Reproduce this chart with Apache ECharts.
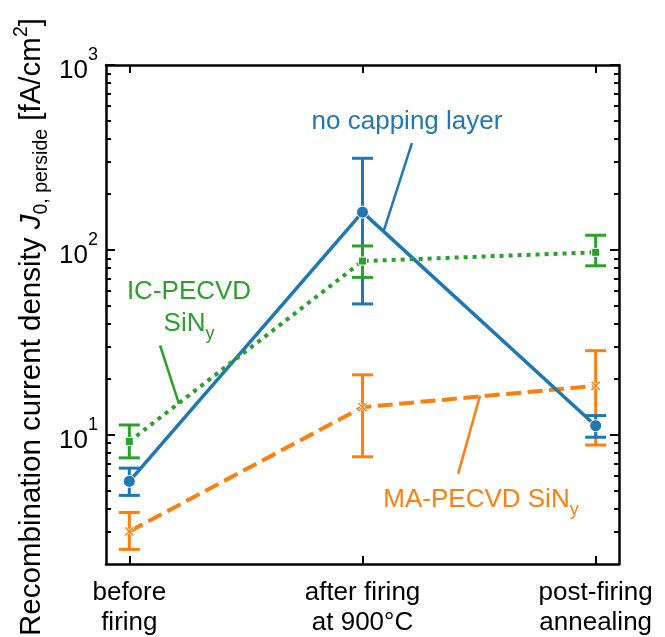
<!DOCTYPE html>
<html>
<head>
<meta charset="utf-8">
<script src="https://cdn.jsdelivr.net/npm/echarts@6/dist/echarts.min.js"></script>
<style>
html, body { margin: 0; padding: 0; background: #fff; }
#chart { width: 665px; height: 637px; }
</style>
</head>
<body>
<div id="chart"></div>
<script>
// process stages (x positions 0, 1, 2)
const stages = ['before\nfiring', 'after firing\nat 900°C', 'post-firing\nannealing'];
const stageX = [0, 1, 2];

// no capping layer
const noCapValue = [5.6, 160, 11.2];
const noCapLow = [4.7, 51, 9.7];
const noCapHigh = [6.6, 313, 12.7];

// IC-PECVD SiNy
const icValue = [9.2, 87, 97];
const icLow = [7.5, 71, 82];
const icHigh = [11.3, 105, 120];

// MA-PECVD SiNy
const maValue = [3.0, 14.1, 18.4];
const maLow = [2.4, 7.6, 8.8];
const maHigh = [3.8, 21.1, 28.5];

// y ticks (log axis)
const yMajor = [10, 100, 1000];
const yMinor = [3, 4, 5, 6, 7, 8, 9, 20, 30, 40, 50, 60, 70, 80, 90, 200, 300, 400, 500, 600, 700, 800, 900];

// leader lines for the annotations, in data coordinates
const noCapLeader = [[1.212, 378], [1.092, 128]];
const icLeader = [[0.132, 30.4], [0.213, 14.7]];
const maLeader = [[1.41, 6.15], [1.504, 16.3]];

const BLUE = '#1f77b4';
const ORANGE = '#ff7f0e';
const GREEN = '#2ca02c';
const FONT = 'Liberation Sans, Arial, sans-serif';
const FS = 26;
const FS_SMALL = 18;

const chart = echarts.init(document.getElementById('chart'));

function errorBar(color, low, high) {
  return {
    type: 'custom',
    xAxisIndex: 0,
    yAxisIndex: 0,
    data: stageX.map((x, i) => [x, low[i], high[i]]),
    encode: { x: 0, y: [1, 2] },
    silent: true,
    renderItem(params, api) {
      const top = api.coord([api.value(0), api.value(2)]);
      const bot = api.coord([api.value(0), api.value(1)]);
      const w = 10.5;
      const style = { stroke: color, lineWidth: 3, fill: null };
      return {
        type: 'group',
        children: [
          { type: 'line', shape: { x1: top[0], y1: top[1], x2: bot[0], y2: bot[1] }, style },
          { type: 'line', shape: { x1: top[0] - w, y1: top[1], x2: top[0] + w, y2: top[1] }, style },
          { type: 'line', shape: { x1: bot[0] - w, y1: bot[1], x2: bot[0] + w, y2: bot[1] }, style }
        ]
      };
    }
  };
}

function leader(color, pts) {
  return {
    silent: true,
    symbol: 'none',
    label: { show: false },
    lineStyle: { color: color, width: 2.5, type: 'solid' },
    data: [[{ coord: pts[0] }, { coord: pts[1] }]]
  };
}

function lineSeries(name, color, values, lineType, width, symbol, size, lead) {
  return {
    name: name,
    type: 'line',
    xAxisIndex: 0,
    yAxisIndex: 0,
    data: stageX.map((x, i) => [x, values[i]]),
    symbol: symbol,
    symbolSize: size,
    showAllSymbol: true,
    lineStyle: { color: color, width: width, type: lineType },
    itemStyle: { color: color, borderColor: '#fff', borderWidth: 1 },
    markLine: leader(color, lead),
    animation: false
  };
}

const xMark = 'path://M0,1.5 L1.5,0 L5,3.5 L8.5,0 L10,1.5 L6.5,5 L10,8.5 L8.5,10 L5,6.5 L1.5,10 L0,8.5 L3.5,5 Z';

const axisLine = { show: true, onZero: false, lineStyle: { color: '#000', width: 2.5 } };
const tickStyle = { color: '#000', width: 2 };

function yAxisDef(position, ticks, len, showLine) {
  return {
    type: 'log',
    logBase: 10,
    min: 2,
    max: 1000,
    position: position,
    axisLine: showLine ? axisLine : { show: false, onZero: false },
    axisTick: { show: true, inside: true, length: len, customValues: ticks, lineStyle: tickStyle },
    axisLabel: { show: false },
    minorTick: { show: false },
    splitLine: { show: false }
  };
}

const yLeft = yAxisDef('left', yMajor, 9, true);
yLeft.axisLabel = {
  show: true,
  customValues: yMajor,
  margin: 8,
  formatter: v => '{b|10}{s|' + Math.round(Math.log10(v)) + '}',
  rich: {
    b: { fontSize: FS, fontFamily: FONT, color: '#000', lineHeight: 38, verticalAlign: 'bottom' },
    s: { fontSize: FS_SMALL, fontFamily: FONT, color: '#000', lineHeight: 20, verticalAlign: 'top' }
  }
};
yLeft.name = '{t|Recombination current density }{i|J}{sub|0, perside}{t| [fA/cm}{sup|2}{t|]}';
yLeft.nameLocation = 'middle';
yLeft.nameRotate = 90;
yLeft.nameGap = 54;
yLeft.nameMoveOverlap = false;
yLeft.nameTextStyle = {
  padding: [0, 25, 0, 0],
  rich: {
    t: { fontSize: 29.5, fontFamily: FONT, color: '#000', lineHeight: 40, verticalAlign: 'middle' },
    i: { fontSize: 29.5, fontFamily: FONT, fontStyle: 'italic', color: '#000', lineHeight: 40, verticalAlign: 'middle' },
    sub: { fontSize: 19.5, fontFamily: FONT, color: '#000', lineHeight: 16, verticalAlign: 'bottom' },
    sup: { fontSize: 19.5, fontFamily: FONT, color: '#000', lineHeight: 18, verticalAlign: 'top' }
  }
};

const option = {
  backgroundColor: '#fff',
  animation: false,
  grid: { left: 106, right: 46, top: 65, bottom: 73, containLabel: false, outerBoundsMode: 'none' },
  xAxis: [
    {
      type: 'value',
      min: -0.1,
      max: 2.1,
      position: 'bottom',
      axisLine: axisLine,
      axisTick: { show: true, inside: true, length: 8, customValues: stageX, lineStyle: tickStyle },
      axisLabel: {
        customValues: stageX,
        formatter: v => stages[Math.round(v)],
        fontSize: FS,
        fontFamily: FONT,
        color: '#000',
        lineHeight: 30,
        margin: 14
      },
      splitLine: { show: false }
    },
    {
      type: 'value',
      min: -0.1,
      max: 2.1,
      position: 'top',
      axisLine: axisLine,
      axisTick: { show: true, inside: true, length: 8, customValues: stageX, lineStyle: tickStyle },
      axisLabel: { show: false },
      splitLine: { show: false }
    }
  ],
  yAxis: [
    yLeft,
    yAxisDef('right', yMajor, 9, true),
    yAxisDef('left', yMinor, 5, false),
    yAxisDef('right', yMinor, 5, false)
  ],
  series: [
    errorBar(ORANGE, maLow, maHigh),
    lineSeries('MA-PECVD SiNy', ORANGE, maValue, [15, 6.5], 4, xMark, 10, maLeader),
    errorBar(BLUE, noCapLow, noCapHigh),
    lineSeries('no capping layer', BLUE, noCapValue, 'solid', 3.5, 'circle', 12, noCapLeader),
    errorBar(GREEN, icLow, icHigh),
    lineSeries('IC-PECVD SiNy', GREEN, icValue, [4, 5], 4, 'rect', 8, icLeader)
  ],
  graphic: [
    {
      type: 'text',
      x: 407,
      y: 122,
      style: {
        text: 'no capping layer',
        fontSize: FS, fontFamily: FONT, fill: BLUE,
        align: 'center', verticalAlign: 'middle'
      }
    },
    {
      type: 'text',
      x: 189,
      y: 311,
      style: {
        text: '{a|IC-PECVD}\n{a|SiN}{s|y}',
        align: 'center', verticalAlign: 'middle',
        rich: {
          a: { fontSize: FS, fontFamily: FONT, fill: GREEN, color: GREEN, lineHeight: 32, verticalAlign: 'top' },
          s: { fontSize: FS_SMALL, fontFamily: FONT, fill: GREEN, color: GREEN, lineHeight: 16, verticalAlign: 'bottom' }
        }
      }
    },
    {
      type: 'text',
      x: 481,
      y: 503,
      style: {
        text: '{a|MA-PECVD SiN}{s|y}',
        align: 'center', verticalAlign: 'middle',
        rich: {
          a: { fontSize: FS, fontFamily: FONT, fill: ORANGE, color: ORANGE, lineHeight: 32, verticalAlign: 'top' },
          s: { fontSize: FS_SMALL, fontFamily: FONT, fill: ORANGE, color: ORANGE, lineHeight: 16, verticalAlign: 'bottom' }
        }
      }
    }
  ]
};

chart.setOption(option);
</script>
</body>
</html>
